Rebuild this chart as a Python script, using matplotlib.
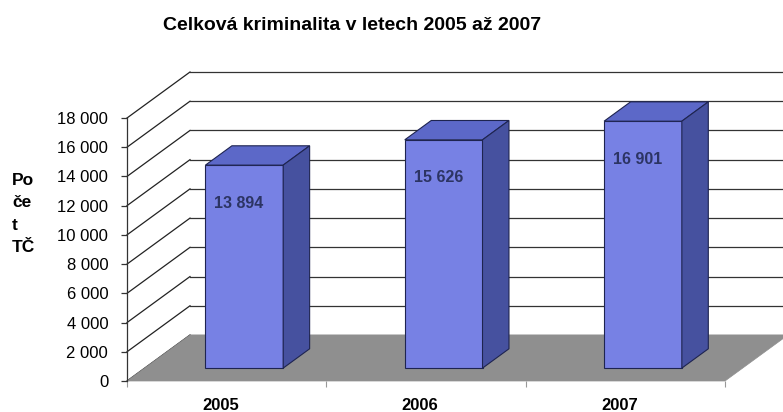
import matplotlib
matplotlib.use("Agg")
import matplotlib.pyplot as plt
from matplotlib.patches import Polygon
from matplotlib.transforms import IdentityTransform, offset_copy, Affine2D
from matplotlib.ticker import FuncFormatter

# data
years = ["2005", "2006", "2007"]
counts = [13894, 15626, 16901]
yticks = list(range(0, 18001, 2000))

title = "Celková kriminalita v letech 2005 až 2007"
ylabel = "Po\nče\nt\nTČ"

plt.rcParams['font.family'] = ['Liberation Sans', 'DejaVu Sans']

W, H = 783, 412
fig = plt.figure(figsize=(W / 100, H / 100), dpi=100)
ax = fig.add_axes([127 / W, 31 / H, 598 / W, 263 / H])
ax.set_xlim(-0.5, len(years) - 0.5)
ax.set_ylim(0, 18000)
ax.patch.set_visible(False)

# depth of the 3d box in pixels
DX, DY = 63, 46
D1, D2 = 0.28, 0.70   # front / back of the bars
BW = 0.39

front_c = "#7781e4"
top_c = "#5c68c8"
side_c = "#46519f"
edge_c = "#1e2450"


def P(x, y, d):
    px, py = ax.transData.transform((x, y))
    return (px + DX * d, py + DY * d)


def poly(pts, **kw):
    p = Polygon(pts, closed=True, transform=IdentityTransform(), clip_on=False, **kw)
    ax.add_patch(p)


def line(p0, p1, **kw):
    ax.plot([p0[0], p1[0]], [p0[1], p1[1]], transform=IdentityTransform(),
            clip_on=False, **kw)


x0, x1 = -0.5, len(years) - 0.5

# walls grid
for v in yticks:
    line(P(x0, v, 0), P(x0, v, 1), color="#222222", lw=0.9, zorder=1)
    line(P(x0, v, 1), P(x1, v, 1), color="#333333", lw=0.9, zorder=1)

# floor
poly([P(x0, 0, 0), P(x1, 0, 0), P(x1, 0, 1), P(x0, 0, 1)],
     facecolor="#8f8f8f", edgecolor="#8f8f8f", lw=0.5, zorder=2)

# bars
xs = list(range(len(years)))
ax.bar(xs, counts, width=BW, color=front_c, edgecolor=edge_c, lw=0.8, zorder=3,
       transform=offset_copy(ax.transData, fig, x=DX * D1, y=DY * D1, units='dots'))
for x, v in zip(xs, counts):
    a, b = x - BW / 2, x + BW / 2
    poly([P(a, v, D1), P(b, v, D1), P(b, v, D2), P(a, v, D2)],
         facecolor=top_c, edgecolor=edge_c, lw=0.8, zorder=3)
    poly([P(b, 0, D1), P(b, v, D1), P(b, v, D2), P(b, 0, D2)],
         facecolor=side_c, edgecolor=edge_c, lw=0.8, zorder=3)
    lab = f"{v:,}".replace(",", " ")
    ax.text(a, v, lab, fontsize=11.5, fontweight="bold", color="#2c3463",
            ha="left", va="center", zorder=4,
            transform=offset_copy(ax.transData, fig, x=DX * D1 + 9, y=DY * D1 - 38, units='dots'))

# axes
for s in ["top", "right", "bottom"]:
    ax.spines[s].set_visible(False)
ax.spines["left"].set_color("#333333")
ax.spines["left"].set_linewidth(0.9)
ax.set_yticks(yticks)
ax.yaxis.set_major_formatter(FuncFormatter(lambda v, p: f"{int(v):,}".replace(",", " ")))
ax.tick_params(axis="y", length=4.5, width=0.9, color="#333333", pad=9, labelsize=12)

ax.set_xticks(xs)
ax.set_xticklabels(years, fontsize=12, fontweight="bold")
ax.set_xticks([x0 + i for i in range(len(years) + 1)], minor=True)
ax.tick_params(axis="x", which="major", length=0, pad=12)
ax.tick_params(axis="x", which="minor", length=4, width=0.8, color="#999999")
for t in ax.get_xticklabels():
    t.set_transform(t.get_transform() + Affine2D().translate(-6, 0))

fig.text(352 / W, 1 - 25 / H, title, ha="center", va="center",
         fontsize=14, fontweight="bold")
fig.text(12 / W, 1 - 214 / H, ylabel, ha="left", va="center",
         fontsize=12.5, fontweight="bold", linespacing=1.6)

fig.savefig("out.png", dpi=100)
